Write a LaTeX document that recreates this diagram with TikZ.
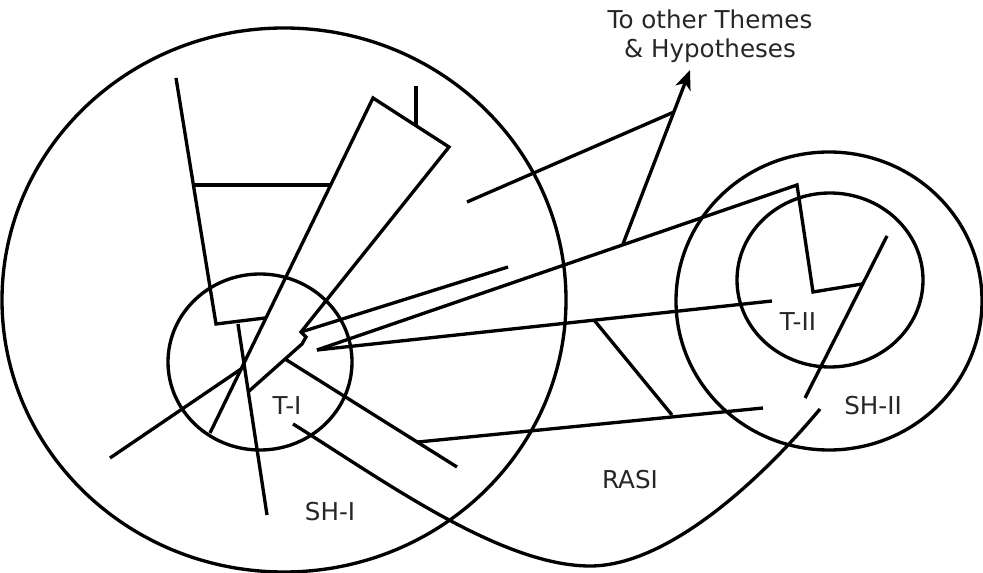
\documentclass[tikz,border=0pt]{standalone}
\usepackage{fontspec}
\setmainfont{DejaVu Sans}
\usepackage{tikz}
\usetikzlibrary{arrows.meta}

\begin{document}
\begin{tikzpicture}[x=0.02cm, y=-0.02cm,
    ring/.style={line width=1.9pt},
    link/.style={line width=1.9pt, line join=miter},
    arrow/.style={-{Stealth[length=11pt, width=9pt, inset=3pt]}, line width=1.9pt},
    lbl/.style={font=\fontsize{14}{17}\selectfont, text=black!85, inner sep=0pt}]

    \useasboundingbox (0,0) rectangle (983,573);

    % Circles: themes and sub-hypotheses
    \draw[ring] (284,300) ellipse (282 and 272);
    \draw[ring] (260,362) ellipse (92 and 88);
    \draw[ring] (829,301) ellipse (153 and 149);
    \draw[ring] (830,280) ellipse (93 and 87);

    % Labels
    \node[lbl] (ti) at (287,406) {T-I};
    \node[lbl] (shi) at (330,512) {SH-I};
    \node[lbl] (tii) at (798,322) {T-II};
    \node[lbl] (shii) at (873,406) {SH-II};
    \node[lbl] (rasi) at (630,480) {RASI};
    \node[lbl, align=center, anchor=north] (dest) at (710,9) {To other Themes\\\& Hypotheses};

    % Points of the first theme
    \coordinate (bartop) at (176,78);
    \coordinate (barfoot) at (216,324);
    \coordinate (barend) at (265,318);
    \coordinate (crossl) at (194,185);
    \coordinate (crossr) at (332,185);
    \coordinate (apex) at (373,98);
    \coordinate (tip) at (449,147);
    \coordinate (wfoot) at (210,433);
    \coordinate (jog1) at (301,332);
    \coordinate (jog2) at (306,337);
    \coordinate (jog3) at (302,344);
    \coordinate (wend) at (248,392);
    \coordinate (ticktop) at (416,86);
    \coordinate (tickfoot) at (416,125);
    \coordinate (droptop) at (238,324);
    \coordinate (dropend) at (267,515);
    \coordinate (leftend) at (110,458);
    \coordinate (hub) at (244,367);
    \coordinate (slant) at (285,359);
    \coordinate (slantend) at (457,467);
    \coordinate (fan) at (317,350);
    \coordinate (fanend) at (508,267);

    % Points of the second theme
    \coordinate (kink) at (797,185);
    \coordinate (elbow) at (813,292);
    \coordinate (elbowend) at (862,284);
    \coordinate (inner) at (772,301);
    \coordinate (diagtop) at (887,236);
    \coordinate (diagend) at (805,398);
    \coordinate (curvestart) at (820,409);
    \coordinate (curvelow) at (590,566);
    \coordinate (curveend) at (293,424);
    \coordinate (rungtop) at (594,320);
    \coordinate (rungfoot) at (672,415);
    \coordinate (bottoml) at (418,442);
    \coordinate (bottomr) at (763,408);

    % Points of the outgoing link
    \coordinate (outl) at (467,202);
    \coordinate (outr) at (674,112);
    \coordinate (arrowfoot) at (623,244);
    \coordinate (arrowtip) at (690,70);

    % Connections inside SH-I
    \draw[link] (bartop) -- (barfoot) -- (barend);
    \draw[link] (crossl) -- (crossr);
    \draw[link] (wfoot) -- (apex) -- (tip) -- (jog1) -- (jog2) -- (jog3) -- (wend);
    \draw[link] (ticktop) -- (tickfoot);
    \draw[link] (droptop) -- (dropend);
    \draw[link] (leftend) -- (hub);
    \draw[link] (slant) -- (slantend);
    \draw[link] (jog1) -- (fanend);

    % Connections between the themes
    \draw[link] (fan) -- (kink) -- (elbow) -- (elbowend);
    \draw[link] (fan) -- (inner);
    \draw[link] (rungtop) -- (rungfoot);
    \draw[link] (bottoml) -- (bottomr);
    \draw[link] (diagtop) -- (diagend);
    \draw[link] (curveend) .. controls (380,478) and (500,566) .. (curvelow)
        .. controls (670,566) and (765,475) .. (curvestart);

    % Link to other themes
    \draw[link] (outl) -- (outr);
    \draw[arrow] (arrowfoot) -- (arrowtip);
\end{tikzpicture}
\end{document}
